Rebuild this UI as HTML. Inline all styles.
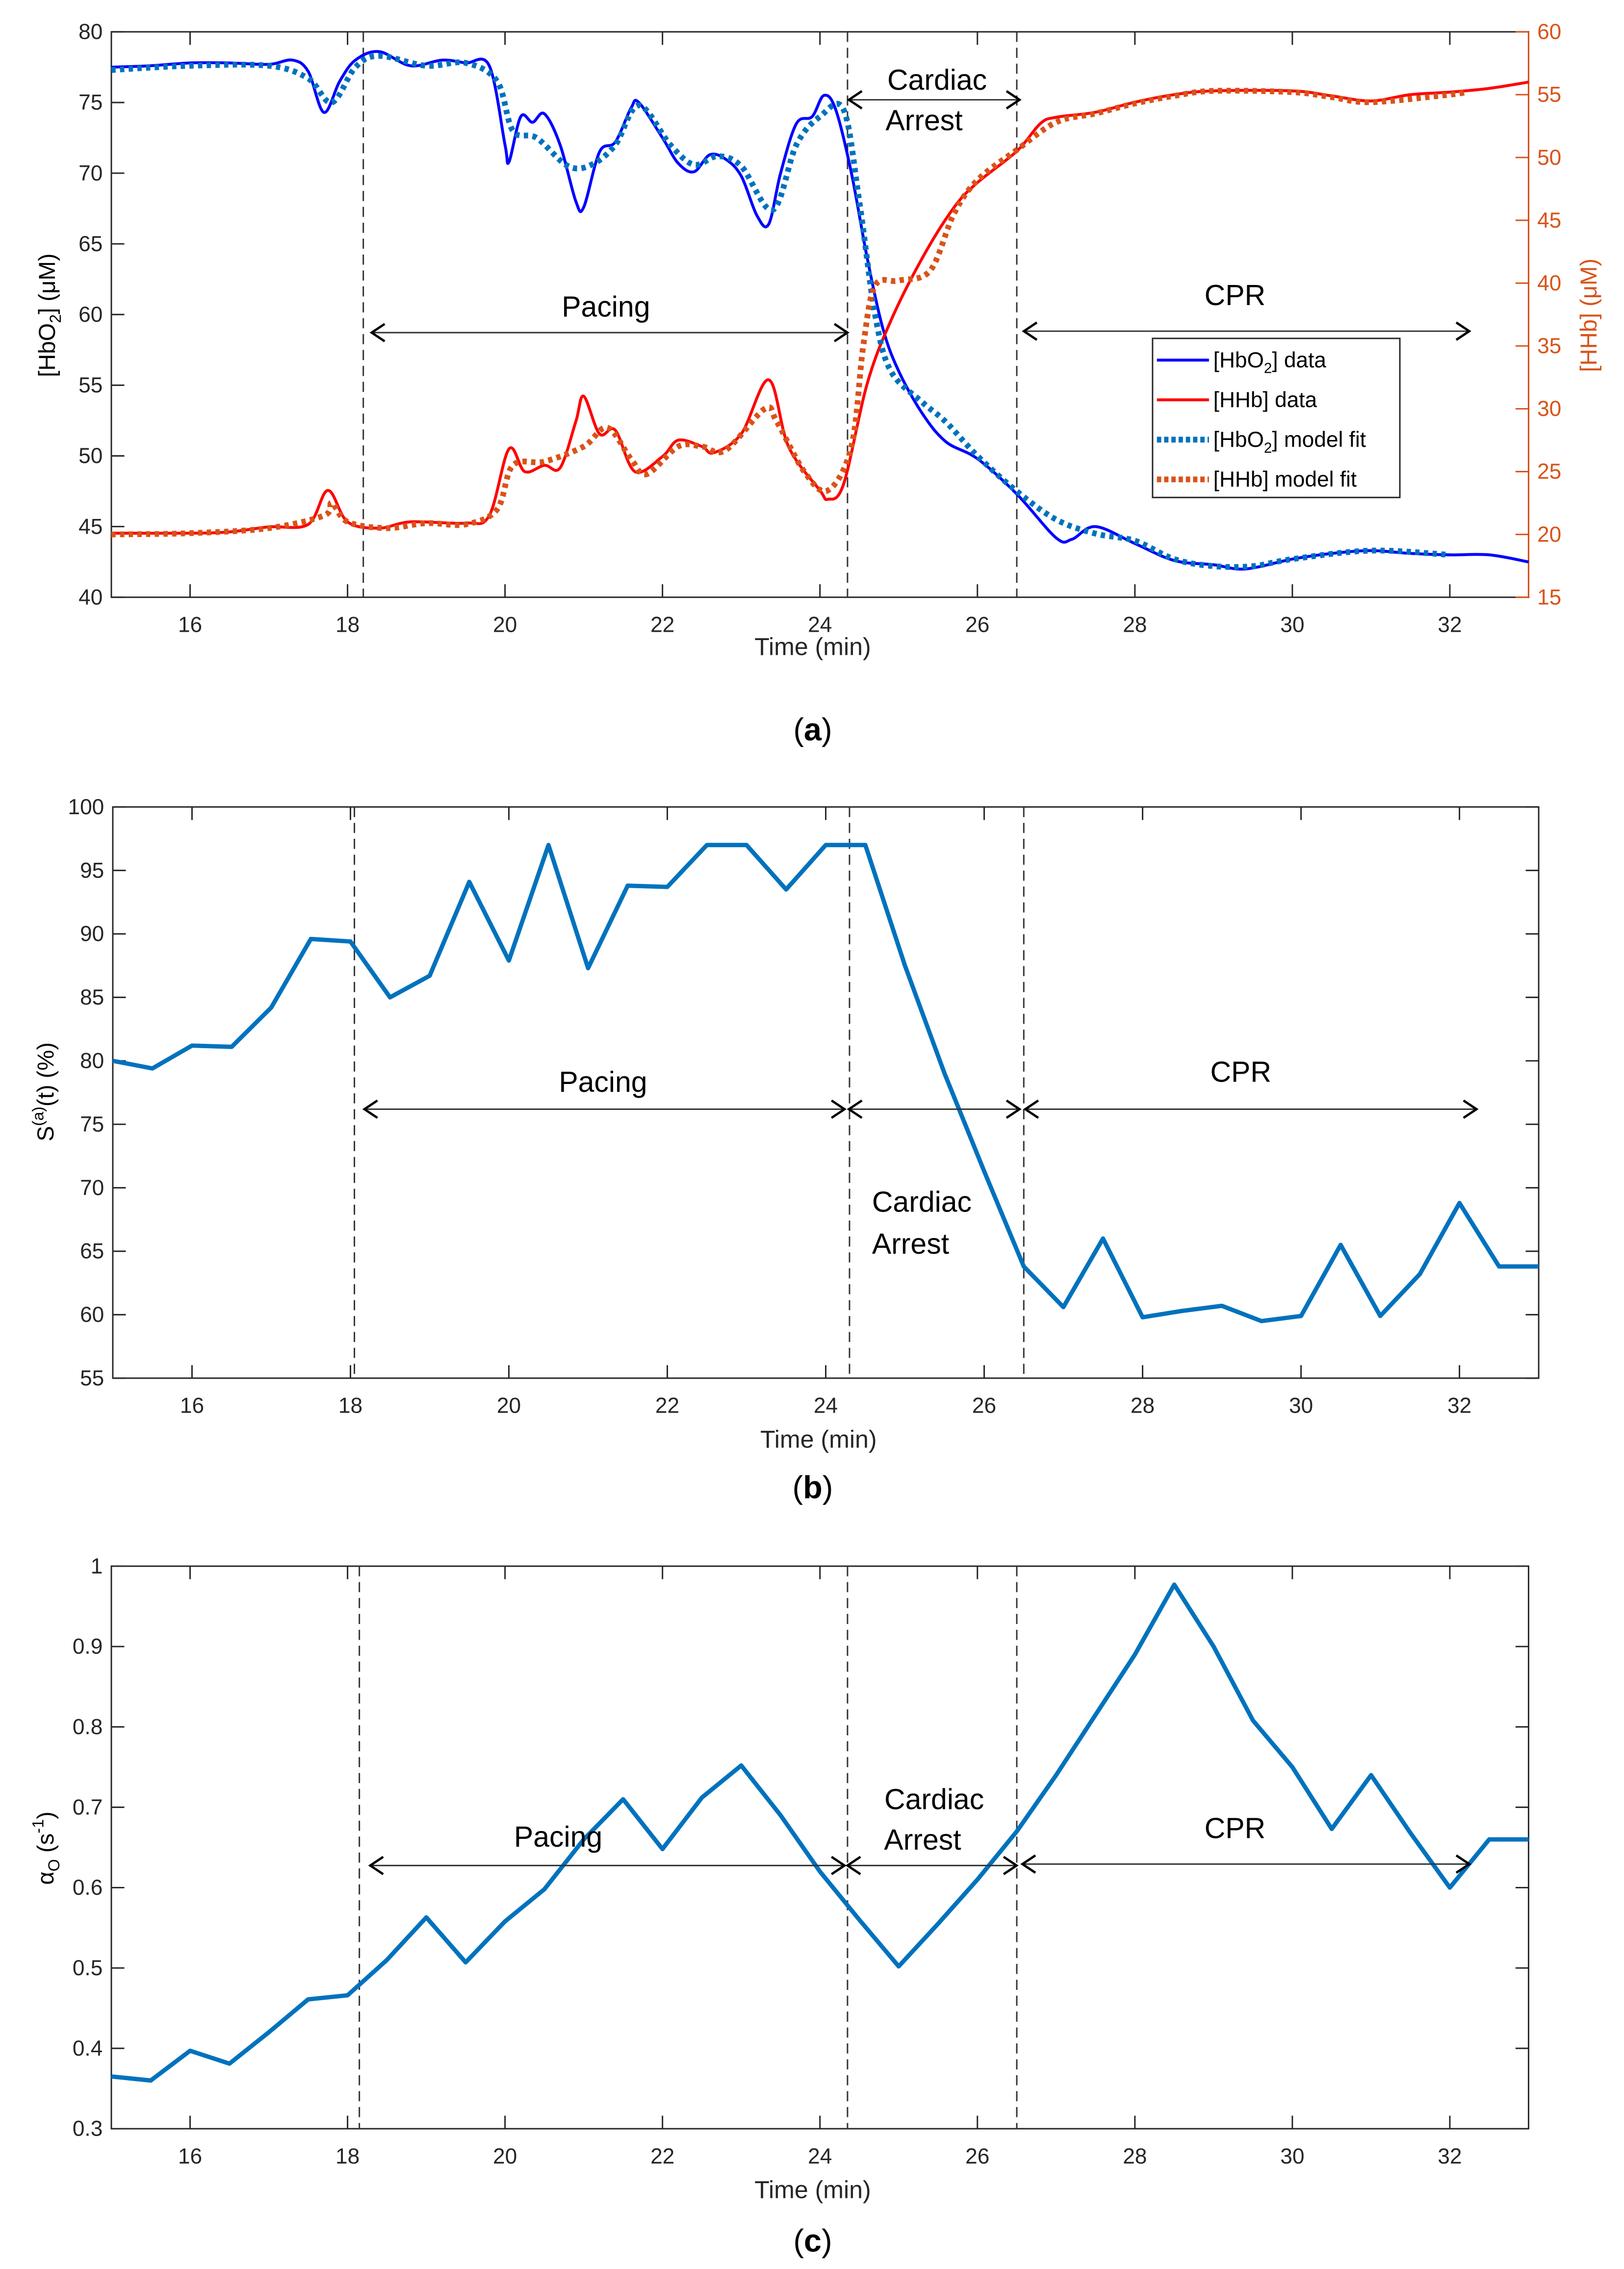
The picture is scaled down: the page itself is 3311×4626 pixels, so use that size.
<!DOCTYPE html>
<html><head><meta charset="utf-8"><style>
html,body{margin:0;padding:0;background:#fff}
svg{display:block}
text{font-family:"Liberation Sans",sans-serif}
</style></head><body>
<svg id="fig" width="3311" height="4626" viewBox="0 0 1123 1569" xmlns="http://www.w3.org/2000/svg">
<g id="pa"></g>
<g id="pb"></g>
<g id="pc"></g>
<text x="562" y="512" font-size="22" text-anchor="middle" font-family="Liberation Serif">(<tspan font-weight="bold">a</tspan>)</text>
<text x="562" y="1036" font-size="22" text-anchor="middle" font-family="Liberation Serif">(<tspan font-weight="bold">b</tspan>)</text>
<text x="562" y="1557" font-size="22" text-anchor="middle" font-family="Liberation Serif">(<tspan font-weight="bold">c</tspan>)</text>
</svg>
<script>
const xTicks=[16,18,20,22,24,26,28,30,32];
// panel a data
const hbo2DataT=[15,15.5,16,16.5,17,17.3,17.5,17.7,17.9,18.1,18.4,18.8,19.2,19.5,19.8,20.0,20.05,20.2,20.35,20.5,20.7,20.9,21.0,21.2,21.4,21.6,21.7,22,22.2,22.4,22.6,22.8,23.0,23.2,23.35,23.5,23.7,23.9,24.05,24.2,24.4,24.6,24.8,25,25.3,25.6,26,26.5,27,27.2,27.5,28,28.5,29,29.4,30,30.5,31,31.5,32,32.5,33];
const hbo2DataV=[77.5,77.6,77.8,77.8,77.7,78,77.2,74.3,76.5,78,78.6,77.6,78.0,77.8,77.6,72,70.8,74,73.6,74.2,72,68,67.6,71.5,72.2,74.6,75,72.5,70.7,70.1,71.3,71,69.8,67,66.4,70,73.5,74,75.5,74.5,70,64,59,56,53,51,49.8,47.3,44.2,44.1,45,43.8,42.6,42.3,42,42.7,43.1,43.3,43.1,43,43,42.5];
const hbo2FitT=[15,16,17,17.5,17.8,18.1,18.4,19,19.5,19.9,20.1,20.4,20.8,21.1,21.4,21.7,22.1,22.4,22.7,23,23.4,23.7,24,24.3,24.5,24.7,24.9,25.3,25.6,26,26.5,27,27.5,28,28.5,29,29.5,30,31,32];
const hbo2FitV=[77.3,77.6,77.6,76.7,75,77.5,78.3,77.6,77.8,76.5,73,72.5,70.5,70.6,72,74.8,72,70.6,71.2,70.5,67.4,72,74,74.5,68,60,56,53.8,52.4,50,47.5,45.5,44.5,44,42.7,42.2,42.2,42.7,43.3,43];
const hhbDataT=[15,16,16.5,17,17.5,17.75,18,18.4,18.8,19.5,19.8,20.05,20.25,20.5,20.7,20.9,21.0,21.2,21.4,21.65,22,22.2,22.5,22.65,23,23.35,23.6,24,24.1,24.3,24.6,24.9,25.3,25.7,26,26.5,26.8,27,27.5,28,28.5,29,30,30.5,31,31.5,32,32.5,33];
const hhbDataV=[20.1,20.1,20.2,20.6,20.8,23.5,21,20.5,21,20.9,21.5,26.8,25,25.5,25.3,29,31,28,28.3,25,26.2,27.5,27,26.5,28,32.3,27,23.5,22.8,24,32,37,42,46,48,50.5,52.7,53.2,53.6,54.4,55,55.3,55.3,54.9,54.5,55,55.2,55.5,56];
const hhbFitT=[15,16,17,17.7,17.8,18,18.5,19,19.5,19.9,20.1,20.5,21,21.3,21.6,21.8,22.2,22.5,22.8,23.3,23.45,23.8,24.1,24.4,24.55,24.7,25,25.4,25.7,26,26.5,27,27.5,28,28.5,29,30,30.5,31,32,32.2];
const hhbFitV=[20,20.1,20.5,21.5,22.5,21,20.5,20.9,20.8,22,25.5,25.8,27,28.5,26,24.8,27,27,26.7,30,29,25,23.5,27,35,39.8,40.2,41,45.5,48.2,50.6,52.8,53.5,54.3,54.9,55.3,55.2,54.8,54.4,55,55.2];
// panel b
const satT=[15,15.5,16,16.5,17,17.5,18,18.5,19,19.5,20,20.5,21,21.5,22,22.5,23,23.5,24,24.5,25,25.5,26,26.5,27,27.5,28,28.5,29,29.5,30,30.5,31,31.5,32,32.5,33];
const satV=[80,79.4,81.2,81.1,84.2,89.6,89.4,85,86.7,94.1,87.9,97,87.3,93.8,93.7,97,97,93.5,97,97,87.5,79,71.3,63.8,60.6,66,59.8,60.3,60.7,59.5,59.9,65.5,59.9,63.2,68.8,63.8,63.8];
// panel c
const alphaT=satT;
const alphaV=[0.365,0.36,0.397,0.381,0.42,0.461,0.466,0.51,0.563,0.507,0.558,0.598,0.66,0.71,0.648,0.712,0.752,0.69,0.62,0.56,0.502,0.555,0.61,0.67,0.74,0.815,0.89,0.977,0.9,0.808,0.75,0.673,0.74,0.668,0.6,0.66,0.66];

const NS='http://www.w3.org/2000/svg';
function mk(parent,tag,attrs,txt){const e=document.createElementNS(NS,tag);for(const k in attrs)e.setAttribute(k,attrs[k]);if(txt!==undefined)e.textContent=txt;parent.appendChild(e);return e;}
function lin(d0,d1,r0,r1){return v=>r0+(v-d0)*(r1-r0)/(d1-d0);}
function pts(T,V,sx,sy){return T.map((t,i)=>sx(t).toFixed(2)+','+sy(V[i]).toFixed(2)).join(' ');}
function smoothPath(T,V,sx,sy){const P=T.map((t,i)=>[sx(t),sy(V[i])]);let d='M'+P[0][0].toFixed(2)+','+P[0][1].toFixed(2);
 for(let i=0;i<P.length-1;i++){const p0=P[Math.max(i-1,0)],p1=P[i],p2=P[i+1],p3=P[Math.min(i+2,P.length-1)];
  const c1=[p1[0]+(p2[0]-p0[0])/6,p1[1]+(p2[1]-p0[1])/6],c2=[p2[0]-(p3[0]-p1[0])/6,p2[1]-(p3[1]-p1[1])/6];
  d+=` C${c1[0].toFixed(2)},${c1[1].toFixed(2)} ${c2[0].toFixed(2)},${c2[1].toFixed(2)} ${p2[0].toFixed(2)},${p2[1].toFixed(2)}`;}
 return d;}
function arrowHead(g,x,y,dir){mk(g,'path',{d:`M${x-dir*9},${y-6} L${x},${y} L${x-dir*9},${y+6}`,fill:'none',stroke:'#000','stroke-width':1.6});}
function dblArrow(g,x1,x2,y,name){const a=mk(g,'g',{});
 mk(a,'line',{x1:x1,y1:y,x2:x2,y2:y,stroke:'#333','stroke-width':1});arrowHead(a,x1,y,-1);arrowHead(a,x2,y,1);}
function label(g,x,y,t,name,anchor){const e=mk(g,'text',{x:x,y:y,'font-size':20,'text-anchor':anchor||'middle'},t);}

function axes(g,L,R,T,B,sx,yTicks,sy,fmt,vlines,rightTicks,titleOff){
 mk(g,'rect',{x:L,y:T,width:R-L,height:B-T,fill:'#fff',stroke:'#262626','stroke-width':1});
 xTicks.forEach(t=>{const x=sx(t);mk(g,'line',{x1:x,y1:B,x2:x,y2:B-9,stroke:'#262626'});mk(g,'line',{x1:x,y1:T,x2:x,y2:T+9,stroke:'#262626'});
  const e=mk(g,'text',{x:x,y:B+24,'font-size':15,'text-anchor':'middle',fill:'#262626'},t);});
 yTicks.forEach(v=>{const y=sy(v);mk(g,'line',{x1:L,y1:y,x2:L+9,y2:y,stroke:'#262626'});if(!rightTicks)mk(g,'line',{x1:R,y1:y,x2:R-9,y2:y,stroke:'#262626'});
  const e=mk(g,'text',{x:L-6,y:y+5,'font-size':15,'text-anchor':'end',fill:'#262626'},fmt(v));});
 vlines.forEach(t=>{const x=sx(t);const l=mk(g,'line',{x1:x,y1:T,x2:x,y2:B,stroke:'#333','stroke-width':1,'stroke-dasharray':'7,4'});});
 const xt=mk(g,'text',{x:(L+R)/2+(-5),y:B+titleOff,'font-size':17,'text-anchor':'middle',fill:'#262626'},'Time (min)');
}
function series(g,T,V,sx,sy,color,w,dash,name,smooth){let p;
 if(smooth)p=mk(g,'path',{d:smoothPath(T,V,sx,sy),fill:'none',stroke:color,'stroke-width':w,'stroke-linejoin':'round'});
 else p=mk(g,'polyline',{points:pts(T,V,sx,sy),fill:'none',stroke:color,'stroke-width':w,'stroke-linejoin':'round'});
 if(dash)p.setAttribute('stroke-dasharray',dash);
 }

// Panel A
(function(){const g=document.getElementById('pa');const L=77,R=1057,T=22,B=413;
 const sx=lin(15,33,L,R), sy=lin(40,80,B,T), sy2=lin(15,60,B,T);
 axes(g,L,R,T,B,sx,[40,45,50,55,60,65,70,75,80],sy,v=>v,[18.2,24.35,26.5],true,40);
 mk(g,'line',{x1:R,y1:T,x2:R,y2:B,stroke:'#D95319','stroke-width':1});
 [15,20,25,30,35,40,45,50,55,60].forEach(v=>{const y=sy2(v);mk(g,'line',{x1:R,y1:y,x2:R-9,y2:y,stroke:'#D95319'});
  const e=mk(g,'text',{x:R+6,y:y+5,'font-size':15,fill:'#D95319'},v);});
 const yl=mk(g,'text',{transform:'translate(38,218) rotate(-90)','font-size':16,'text-anchor':'middle'});
 yl.innerHTML='[HbO<tspan font-size="11" dy="4">2</tspan><tspan dy="-4">] (μM)</tspan>';
 const yr=mk(g,'text',{transform:'translate(1104,218) rotate(-90)','font-size':16,'text-anchor':'middle',fill:'#D95319'},'[HHb] (μM)');
 series(g,hbo2DataT,hbo2DataV,sx,sy,'#0000ff',2,null,'hbo2-data-line',true);
 series(g,hhbDataT,hhbDataV,sx,sy2,'#ff0000',2,null,'hhb-data-line',true);
 series(g,hbo2FitT,hbo2FitV,sx,sy,'#0072BD',4,'3,3','hbo2-fit-line',true);
 series(g,hhbFitT,hhbFitV,sx,sy2,'#D95319',4,'3,3','hhb-fit-line',true);
 label(g,419,219,'Pacing','pacing-label');dblArrow(g,257,586,230,'pacing-arrow');
 label(g,648,62,'Cardiac','cardiac-label');label(g,639,90,'Arrest','arrest-label');dblArrow(g,587,705,69,'arrest-arrow');
 label(g,854,211,'CPR','cpr-label');dblArrow(g,708,1016,229,'cpr-arrow');
 const lg=mk(g,'g',{});
 mk(lg,'rect',{x:797,y:234,width:171,height:110,fill:'#fff',stroke:'#262626','stroke-width':1});
 const items=[['#0000ff',null,'[HbO<tspan font-size="10" dy="4">2</tspan><tspan dy="-4">] data</tspan>'],['#ff0000',null,'[HHb] data'],['#0072BD','3,2','[HbO<tspan font-size="10" dy="4">2</tspan><tspan dy="-4">] model fit</tspan>'],['#D95319','3,2','[HHb] model fit']];
 items.forEach((it,i)=>{const y=249+i*27.5;const e=mk(lg,'g',{});
  const l=mk(e,'line',{x1:800,y1:y,x2:836,y2:y,stroke:it[0],'stroke-width':it[1]?4:2});if(it[1])l.setAttribute('stroke-dasharray',it[1]);
  const t=mk(e,'text',{x:839,y:y+5,'font-size':15});t.innerHTML=it[2];});
})();
// Panel B
(function(){const g=document.getElementById('pb');const L=78,R=1064,T=558,B=953;
 const sx=lin(15,33,L,R), sy=lin(55,100,B,T);
 axes(g,L,R,T,B,sx,[55,60,65,70,75,80,85,90,95,100],sy,v=>v,[18.05,24.3,26.5],false,48);
 const yl=mk(g,'text',{transform:'translate(37,755) rotate(-90)','font-size':16,'text-anchor':'middle'});
 yl.innerHTML='S<tspan font-size="11" dy="-7">(a)</tspan><tspan dy="7">(t) (%)</tspan>';
 series(g,satT,satV,sx,sy,'#0072BD',3,null,'saturation-line');
 label(g,417,755,'Pacing','pacing-label');dblArrow(g,252,584,767,'pacing-arrow');dblArrow(g,587,705,767,'arrest-arrow');
 label(g,603,838,'Cardiac','cardiac-label','start');label(g,603,867,'Arrest','arrest-label','start');
 label(g,858,748,'CPR','cpr-label');dblArrow(g,709,1021,767,'cpr-arrow');
})();
// Panel C
(function(){const g=document.getElementById('pc');const L=77,R=1057,T=1083,B=1472;
 const sx=lin(15,33,L,R), sy=lin(0.3,1,B,T);
 axes(g,L,R,T,B,sx,[0.3,0.4,0.5,0.6,0.7,0.8,0.9,1],sy,v=>v===1?'1':v.toFixed(1),[18.15,24.35,26.5],false,48);
 const yl=mk(g,'text',{transform:'translate(37,1278) rotate(-90)','font-size':16,'text-anchor':'middle'});
 yl.innerHTML='α<tspan font-size="11" dy="4">O</tspan><tspan dy="-4"> (s</tspan><tspan font-size="11" dy="-7">-1</tspan><tspan dy="7">)</tspan>';
 series(g,alphaT,alphaV,sx,sy,'#0072BD',3,null,'alpha-line');
 label(g,386,1277,'Pacing','pacing-label');dblArrow(g,256,584,1290,'pacing-arrow');dblArrow(g,586,703,1290,'arrest-arrow');
 label(g,646,1251,'Cardiac','cardiac-label');label(g,638,1279,'Arrest','arrest-label');
 label(g,854,1271,'CPR','cpr-label');dblArrow(g,707,1016,1289,'cpr-arrow');
})();
</script>
</body></html>
